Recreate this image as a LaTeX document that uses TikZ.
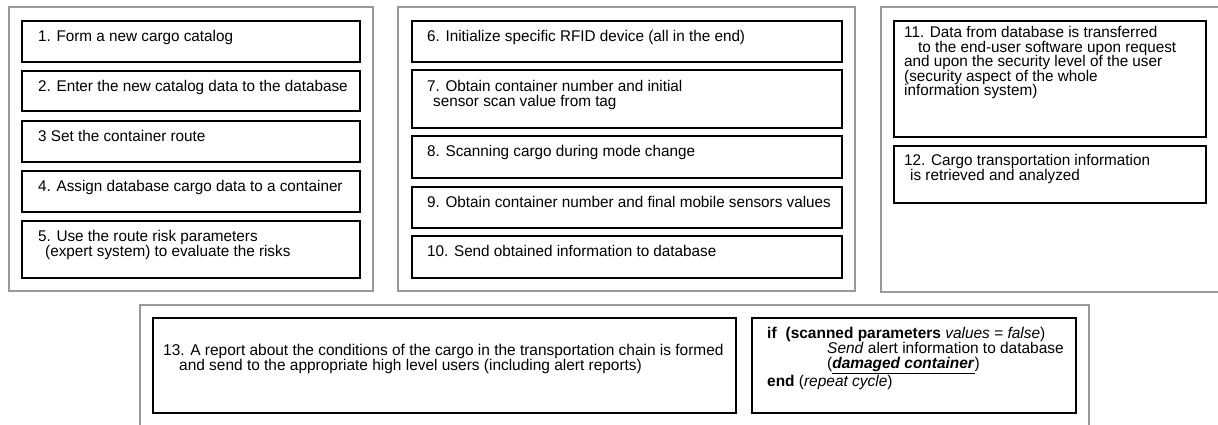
\documentclass[tikz,border=0pt]{standalone}
\usepackage{fontspec}
\newfontfamily\dinfont{Liberation Sans}[FakeStretch=0.985]
\newfontfamily\dinwide{Liberation Sans}[FakeStretch=0.99]
\begin{document}
\begin{tikzpicture}[x=1pt,y=-1pt,
 panel/.style={draw=black!40, line width=1.3pt, anchor=north west, inner sep=0pt, outer sep=0pt},
 box/.style={draw=black, line width=1.7pt, anchor=north west, inner sep=0pt, outer sep=0pt},
 txt/.style={anchor=north west, inner sep=0pt, align=left, font=\dinfont\fontsize{15.5}{14.6}\selectfont},
 txtb/.style={anchor=north west, inner sep=0pt, align=left, font=\dinwide\fontsize{15.6}{15}\selectfont},
]
\useasboundingbox (0,0) rectangle (1218,424);
\clip (0,0) rectangle (1218,424);
% panels
\node[panel, minimum width=364pt, minimum height=284pt] (p1) at (9,7) {};
\node[panel, minimum width=457pt, minimum height=284pt] (p2) at (398,7) {};
\node[panel, minimum width=345pt, minimum height=285pt] (p3) at (881,7) {};
\node[panel, minimum width=949pt, minimum height=130pt] (p4) at (140,305) {};
% panel 1 boxes
\node[box, minimum width=338pt, minimum height=41pt] (b1) at (22,21) {};
\node[box, minimum width=338pt, minimum height=40pt] (b2) at (22,71) {};
\node[box, minimum width=338pt, minimum height=41pt] (b3) at (22,121) {};
\node[box, minimum width=338pt, minimum height=41pt] (b4) at (22,171) {};
\node[box, minimum width=338pt, minimum height=57pt] (b5) at (22,221) {};
% panel 2 boxes
\node[box, minimum width=430pt, minimum height=41pt] (b6) at (412,21) {};
\node[box, minimum width=430pt, minimum height=58pt] (b7) at (412,70) {};
\node[box, minimum width=430pt, minimum height=42pt] (b8) at (412,136) {};
\node[box, minimum width=430pt, minimum height=41pt] (b9) at (412,187) {};
\node[box, minimum width=430pt, minimum height=42pt] (b10) at (412,236) {};
% panel 3 boxes
\node[box, minimum width=312pt, minimum height=116pt] (b11) at (894,21) {};
\node[box, minimum width=312pt, minimum height=57pt] (b12) at (894,146) {};
% panel 4 boxes
\node[box, minimum width=583pt, minimum height=95pt] (b13) at (153,318) {};
\node[box, minimum width=324pt, minimum height=95pt] (b14) at (752,318) {};
% texts
\node[txt] (t1) at ([xshift=16pt,yshift=-9pt]b1.north west) {1. Form a new cargo catalog};
\node[txt] (t2) at ([xshift=16pt,yshift=-9pt]b2.north west) {2. Enter the new catalog data to the database};
\node[txt] (t3) at ([xshift=16pt,yshift=-9pt]b3.north west) {3 Set the container route};
\node[txt] (t4) at ([xshift=16pt,yshift=-9pt]b4.north west) {4. Assign database cargo data to a container};
\node[txt] (t5) at ([xshift=16pt,yshift=-9pt]b5.north west) {5. Use the route risk parameters\\\hspace*{7pt}(expert system) to evaluate the risks};
\node[txt] (t6) at ([xshift=15pt,yshift=-9pt]b6.north west) {6. Initialize specific RFID device (all in the end)};
\node[txt] (t7) at ([xshift=15pt,yshift=-10pt]b7.north west) {7. Obtain container number and initial\\\hspace*{6pt}sensor scan value from tag};
\node[txt] (t8) at ([xshift=15pt,yshift=-9pt]b8.north west) {8. Scanning cargo during mode change};
\node[txt] (t9) at ([xshift=15pt,yshift=-9pt]b9.north west) {9. Obtain container number and final mobile sensors values};
\node[txt] (t10) at ([xshift=15pt,yshift=-9pt]b10.north west) {10. Send obtained information to database};
\node[txt] (t11) at ([xshift=10pt,yshift=-5pt]b11.north west) {11. Data from database is transferred\\\hspace*{14pt}to the end-user software upon request\\and upon the security level of the user\\(security aspect of the whole\\information system)};
\node[txt] (t12) at ([xshift=10pt,yshift=-8pt]b12.north west) {12. Cargo transportation information\\\hspace*{6pt}is retrieved and analyzed};
\node[txtb] (t13) at ([xshift=10pt,yshift=-26pt]b13.north west) {13. A report about the conditions of the cargo in the transportation chain is formed\\\hspace*{16pt}and send to the appropriate high level users (including alert reports)};
\node[txtb] (t14) at ([xshift=15pt,yshift=-9pt]b14.north west) {\textbf{if}\hspace{9pt}\textbf{(scanned parameters} \textit{values = false})\\\hspace*{60pt}\textit{Send} alert information to database\\\hspace*{60pt}(\underline{\textbf{\textit{damaged container}}})\\\textbf{end} (\textit{repeat cycle})};
\end{tikzpicture}
\end{document}
